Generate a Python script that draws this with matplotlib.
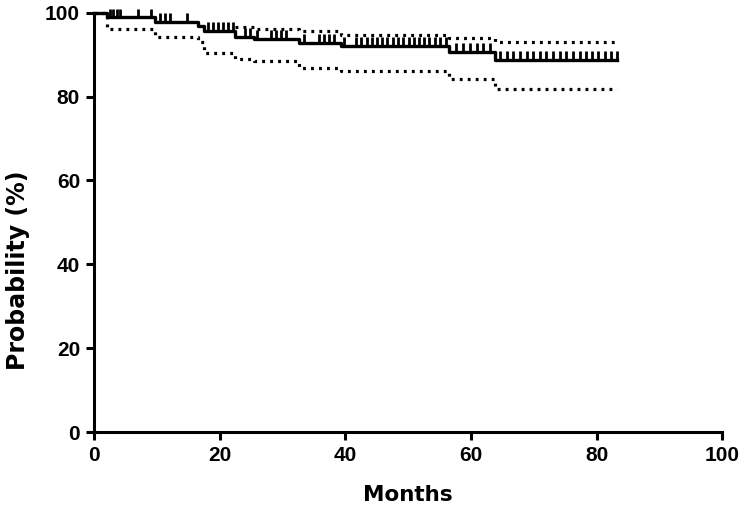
import numpy as np
import matplotlib.pyplot as plt

# step times (months) and survival levels (%)
stepTimes = [0, 2.0, 9.7, 16.5, 17.5, 22.5, 25.5, 32.6, 39.3, 56.5, 63.8]
survival = [100, 98.9, 97.9, 96.9, 95.6, 94.2, 93.8, 92.8, 92.0, 90.6, 88.7]
# upper band is not drawn while it sits at the 100% ceiling
upperCI = [np.nan, np.nan, np.nan, np.nan, np.nan, 96.6, 96.2, 95.6, 94.8, 94.0, 93.0]
lowerCI = [100, 96.1, 94.3, 93.1, 90.3, 89.0, 88.4, 86.9, 86.1, 84.2, 81.7]
endTime = 83.2

censorTimes = [
	2.6, 3.0, 3.6, 4.2, 7.0, 9.0, 10.5, 11.3, 12.1, 14.8,
	18.2, 19.0, 19.8, 20.6, 21.4, 22.2, 24.1, 24.9, 26.0,
	28.1, 28.9, 29.7, 30.5, 33.4, 35.8, 36.6, 37.4, 38.2, 39.8,
	41.7, 42.5, 43.4, 44.2, 45.0, 45.9, 46.7, 47.6, 48.4, 49.2,
	50.1, 50.9, 51.8, 52.6, 53.4, 54.3, 55.1, 56.0,
	57.7, 58.7, 59.8, 60.9, 61.9, 63.0,
	64.6, 65.7, 66.7, 67.8, 68.9, 69.9, 71.0, 72.0, 73.1, 74.2, 75.2,
	76.3, 77.3, 78.3, 79.3, 80.3, 81.3, 82.3, 83.2,
]

xTicks = [0, 20, 40, 60, 80, 100]
yTicks = [0, 20, 40, 60, 80, 100]


def stepLine(levels):
	x = stepTimes + [endTime]
	y = levels + [levels[-1]]
	return x, y


fig = plt.figure(figsize=(7.4, 5.09), dpi=100)
ax = fig.add_axes([0.127, 0.151, 0.849, 0.824])

x, y = stepLine(survival)
ax.step(x, y, where='post', color='black', linewidth=2.4, clip_on=False, zorder=3)

for ci in (upperCI, lowerCI):
	x, y = stepLine(ci)
	ax.step(x, y, where='post', color='black', linewidth=2.3,
		linestyle=(0, (0.9, 1.6)), clip_on=False, zorder=2)

# censor marks sit on the curve and point upward
idx = np.searchsorted(stepTimes, censorTimes, side='right') - 1
censorLevels = np.array(survival)[idx]
ax.vlines(censorTimes, censorLevels, censorLevels + 2.1, color='black',
	linewidth=2.0, clip_on=False, zorder=3)

ax.set_xlim(0, 100)
ax.set_ylim(0, 100)
ax.set_xticks(xTicks)
ax.set_yticks(yTicks)

for side in ('top', 'right'):
	ax.spines[side].set_visible(False)
for side in ('left', 'bottom'):
	ax.spines[side].set_linewidth(2.2)

ax.tick_params(direction='out', length=6, width=2.2, pad=4)
for label in ax.get_xticklabels() + ax.get_yticklabels():
	label.set_fontfamily('Liberation Sans')
	label.set_fontweight('bold')
	label.set_fontsize(15)

ax.set_xlabel('Months', fontfamily='DejaVu Sans', fontweight='bold',
	fontsize=15.5)
ax.set_ylabel('Probability (%)', fontfamily='DejaVu Sans', fontweight='bold',
	fontsize=17)
ax.xaxis.set_label_coords(0.5, -0.125)
ax.yaxis.set_label_coords(-0.102, 0.385)

plt.savefig('out.png', dpi=100)
